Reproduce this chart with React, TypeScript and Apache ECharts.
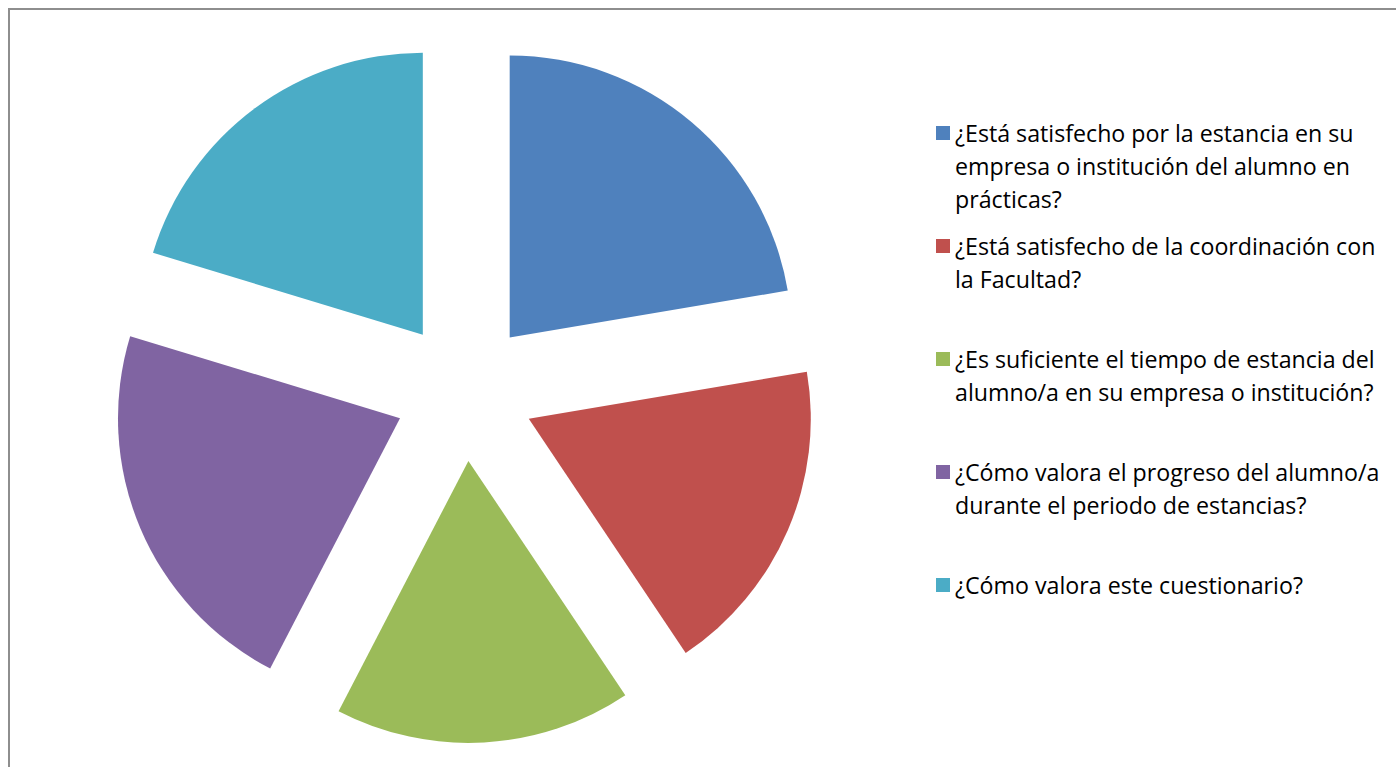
import React, { useEffect, useRef } from "react";
import * as echarts from "echarts";

const categories = [
  "¿Está satisfecho por la estancia en su empresa o institución del alumno en prácticas?",
  "¿Está satisfecho de la coordinación con la Facultad?",
  "¿Es suficiente el tiempo de estancia del alumno/a en su empresa o institución?",
  "¿Cómo valora el progreso del alumno/a durante el periodo de estancias?",
  "¿Cómo valora este cuestionario?",
];
const legendLabels = [
  "¿Está satisfecho por la estancia en su\nempresa o institución del alumno en\nprácticas?",
  "¿Está satisfecho de la coordinación con\nla Facultad?",
  "¿Es suficiente el tiempo de estancia del\nalumno/a en su empresa o institución?",
  "¿Cómo valora el progreso del alumno/a\ndurante el periodo de estancias?",
  "¿Cómo valora este cuestionario?",
];
const values = [4.4, 3.6, 3.35, 4.35, 4.0];
const colors = ["#4F81BD", "#C0504D", "#9BBB59", "#8064A2", "#4BACC6"];
const legendIconCenters = [133, 246, 359, 472, 585];

const FONT = "'Open Sans', sans-serif";
const FONT_SIZE = 23.2;
const LINE_H = 33;

export default function App() {
  const ref = useRef<HTMLDivElement>(null);
  useEffect(() => {
    if (!ref.current) return;
    const chart = echarts.init(ref.current, null, { renderer: "svg" });
    const legends = categories.map((name, i) => {
      const n = legendLabels[i].split("\n").length;
      return {
        data: [name],
        orient: "vertical",
        left: 936,
        top: legendIconCenters[i] - (LINE_H / 2) * (2 * n - 1),
        padding: 0,
        itemWidth: 14,
        itemHeight: 14,
        icon: "rect",
        selectedMode: false,
        formatter: (nm: string) =>
          legendLabels[categories.indexOf(nm)]
            .split("\n")
            .map((l) => "{t|" + l + "}")
            .join("\n"),
        textStyle: {
          fontFamily: FONT,
          fontSize: FONT_SIZE,
          color: "#000",
          lineHeight: LINE_H,
          padding: [(n - 1) * LINE_H, 0, 0, 0],
          rich: {
            t: {
              fontFamily: FONT,
              fontSize: FONT_SIZE,
              color: "#000",
              lineHeight: LINE_H,
            },
          },
        },
      };
    });
    chart.setOption({
      animation: false,
      color: colors,
      legend: legends,
      graphic: [
        {
          type: "line",
          shape: { x1: 8, y1: 9, x2: 1396, y2: 9 },
          style: { stroke: "#8e8e8e", lineWidth: 2 },
        },
        {
          type: "line",
          shape: { x1: 9, y1: 8, x2: 9, y2: 767 },
          style: { stroke: "#8e8e8e", lineWidth: 2 },
        },
      ],
      series: [
        {
          type: "pie",
          center: [464.5, 391],
          radius: [0, 282],
          startAngle: 90,
          clockwise: true,
          selectedMode: "multiple",
          selectedOffset: 70,
          label: { show: false },
          labelLine: { show: false },
          emphasis: { disabled: true },
          select: { itemStyle: {} },
          data: categories.map((name, i) => ({
            name,
            value: values[i],
            selected: true,
            itemStyle: { color: colors[i] },
          })),
        },
      ],
    });
    return () => chart.dispose();
  }, []);
  return (
    <div
      ref={ref}
      style={{ position: "fixed", left: 0, top: 0, width: 1396, height: 767, background: "#fff" }}
    />
  );
}
